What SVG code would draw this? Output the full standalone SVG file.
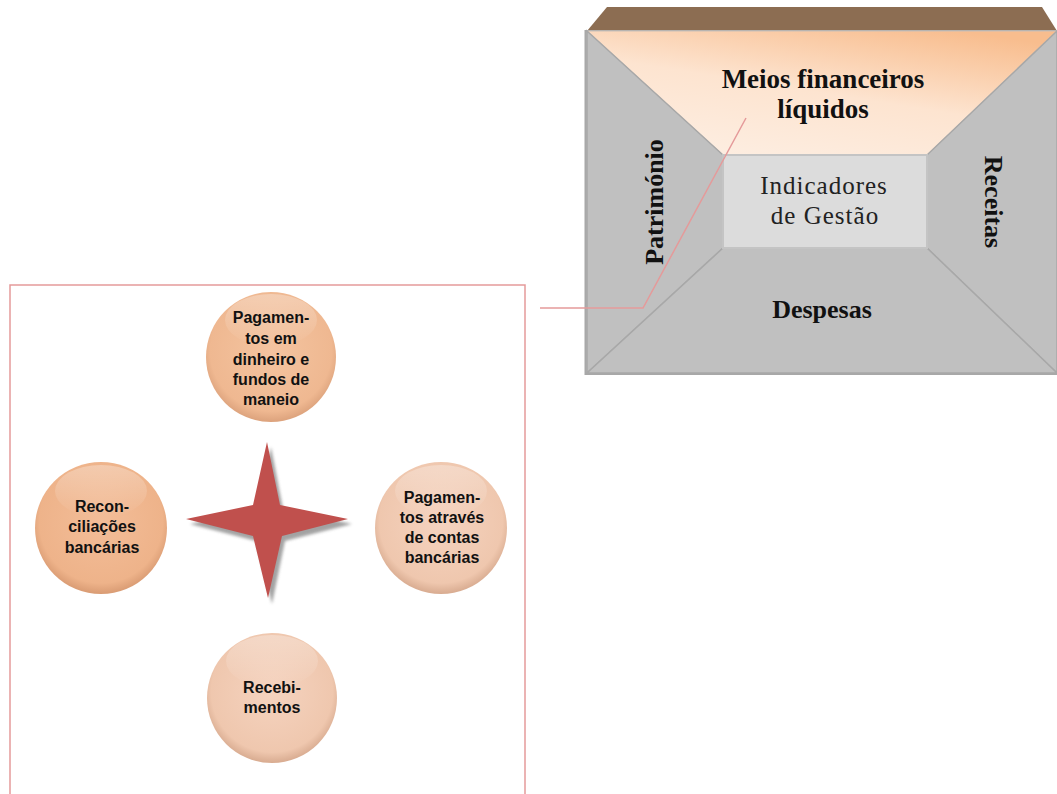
<svg xmlns="http://www.w3.org/2000/svg" width="1057" height="794" viewBox="0 0 1057 794">
  <style>
    .serifB { font-family: "Liberation Serif", "Times New Roman", serif; font-weight: bold; fill: #111; }
    .serif { font-family: "Liberation Serif", "Times New Roman", serif; fill: #222; }
    .lbl { font-family: "Liberation Sans", Arial, sans-serif; font-weight: bold; font-size: 16px; fill: #111; text-anchor: middle; }
    .panel { fill: #c0c0c0; stroke: #a8a8a8; stroke-width: 1.5; }
    .callout { fill: none; stroke: #e59a9a; stroke-width: 1.5; }
  </style>
  <defs>
    <linearGradient id="topFill" x1="0.2" y1="1" x2="0.8" y2="0">
      <stop offset="0" stop-color="#fdeee2"/>
      <stop offset="0.5" stop-color="#fde4d0"/>
      <stop offset="1" stop-color="#f8bd8e"/>
    </linearGradient>
    <radialGradient id="ballA" cx="0.5" cy="0.45" r="0.55">
      <stop offset="0" stop-color="#f4c4a0"/>
      <stop offset="0.85" stop-color="#efb891"/>
      <stop offset="1" stop-color="#dca27c"/>
    </radialGradient>
    <radialGradient id="ballB" cx="0.5" cy="0.45" r="0.55">
      <stop offset="0" stop-color="#f3bd98"/>
      <stop offset="0.85" stop-color="#eeb38a"/>
      <stop offset="1" stop-color="#d99b73"/>
    </radialGradient>
    <radialGradient id="ballC" cx="0.5" cy="0.45" r="0.55">
      <stop offset="0" stop-color="#f5d3bf"/>
      <stop offset="0.85" stop-color="#efc7ae"/>
      <stop offset="1" stop-color="#d8ab90"/>
    </radialGradient>
    <linearGradient id="shine" x1="0" y1="0" x2="0" y2="1">
      <stop offset="0" stop-color="#fff" stop-opacity="0.3"/>
      <stop offset="1" stop-color="#fff" stop-opacity="0"/>
    </linearGradient>
    <filter id="soft" x="-20%" y="-20%" width="140%" height="140%">
      <feGaussianBlur stdDeviation="1.5"/>
    </filter>
  </defs>

  <!-- management indicators box -->
  <g id="indicators">
    <polygon points="587,31 607,7 1042,7 1057,31" fill="#8c6d52"/>
    <rect x="585.5" y="31" width="472" height="343" fill="#c0c0c0" stroke="#a8a8a8" stroke-width="2"/>
    <polygon points="587,31 1057,31 927,155 723,155" fill="url(#topFill)" stroke="#c9c0b8" stroke-width="1"/>
    <polygon class="panel" points="587,31 723,155 723,248 587,373"/>
    <polygon class="panel" points="1057,31 927,155 927,248 1057,373"/>
    <polygon class="panel" points="723,248 927,248 1057,373 587,373"/>
    <rect x="723" y="155" width="204" height="93" fill="#dcdcdc" stroke="#c4c4c4" stroke-width="2"/>
    <text class="serifB" font-size="27" x="823" y="88" text-anchor="middle">Meios financeiros</text>
    <text class="serifB" font-size="27" x="823" y="118" text-anchor="middle">líquidos</text>
    <text class="serif" font-size="25" x="824" y="194" text-anchor="middle" letter-spacing="1">Indicadores</text>
    <text class="serif" font-size="25" x="825" y="224" text-anchor="middle" letter-spacing="1">de Gestão</text>
    <text class="serifB" font-size="26" transform="translate(663,202) rotate(-90)" text-anchor="middle">Património</text>
    <text class="serifB" font-size="26" transform="translate(985,202) rotate(90)" text-anchor="middle">Receitas</text>
    <text class="serifB" font-size="26" x="822" y="318" text-anchor="middle">Despesas</text>
  </g>

  <!-- treasury frame -->
  <g id="treasury-frame">
    <polyline class="callout" points="10,800 10,285 525,285 525,800"/>
  </g>

  <!-- central star -->
  <g id="star">
    <polygon points="271,447 283,509 352,524 285,541 272,604 256,541 190,524 256,509" fill="#8c8c8c" opacity="0.8" filter="url(#soft)"/>
    <polygon points="267,442 280,505 348,519 282,536 268,598 253,536 186,519 253,505" fill="#c0504d"/>
  </g>

  <g id="node-cash">
    <circle cx="271" cy="357" r="65" fill="url(#ballA)"/>
    <ellipse cx="271" cy="320" rx="46" ry="26" fill="url(#shine)"/>
    <text class="lbl" x="271" y="323">Pagamen-</text>
    <text class="lbl" x="271" y="344">tos em</text>
    <text class="lbl" x="271" y="365">dinheiro e</text>
    <text class="lbl" x="271" y="385">fundos de</text>
    <text class="lbl" x="271" y="405">maneio</text>
  </g>

  <g id="node-reconciliation">
    <circle cx="101" cy="528" r="66" fill="url(#ballB)"/>
    <ellipse cx="101" cy="491" rx="46" ry="26" fill="url(#shine)"/>
    <text class="lbl" x="102" y="512">Recon-</text>
    <text class="lbl" x="102" y="532">ciliações</text>
    <text class="lbl" x="102" y="553">bancárias</text>
  </g>

  <g id="node-bank">
    <circle cx="441" cy="528" r="66" fill="url(#ballC)"/>
    <ellipse cx="441" cy="491" rx="46" ry="26" fill="url(#shine)"/>
    <text class="lbl" x="442" y="503">Pagamen-</text>
    <text class="lbl" x="442" y="523">tos através</text>
    <text class="lbl" x="442" y="543">de contas</text>
    <text class="lbl" x="442" y="563">bancárias</text>
  </g>

  <g id="node-receipts">
    <circle cx="272" cy="698" r="65" fill="url(#ballC)"/>
    <ellipse cx="272" cy="661" rx="46" ry="26" fill="url(#shine)"/>
    <text class="lbl" x="272" y="693">Recebi-</text>
    <text class="lbl" x="272" y="713">mentos</text>
  </g>

  <!-- callout connector -->
  <g id="connectors">
    <polyline class="callout" points="540,308 643,308 746,118"/>
  </g>
</svg>
